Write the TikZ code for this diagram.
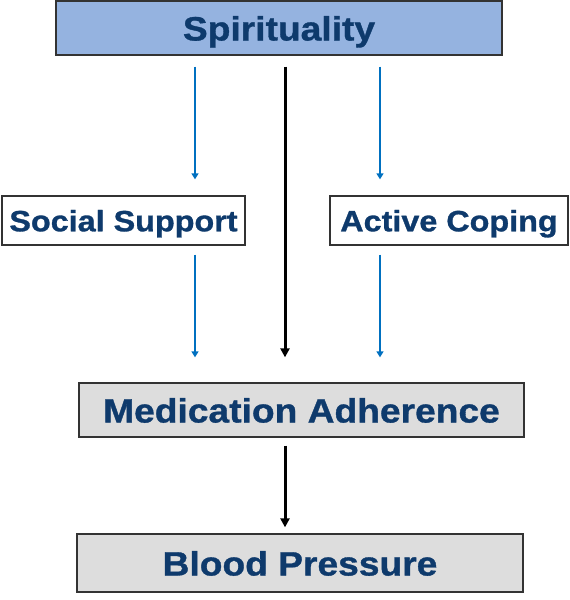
\documentclass[tikz,border=0pt]{standalone}
\usepackage{fontspec}
\usepackage{tikz}
\usetikzlibrary{arrows.meta,positioning}
\newfontfamily\boxfont[FakeStretch=1.1,FakeBold=1]{Liberation Sans}
\definecolor{navytext}{RGB}{14,58,108}
\definecolor{paleblue}{RGB}{149,179,224}
\definecolor{palegray}{RGB}{221,221,221}
\definecolor{linkblue}{RGB}{0,112,192}
\tikzset{
  bigbox/.style={
    draw=black!80,
    line width=1.3pt,
    fill=palegray,
    align=center,
    inner sep=0pt,
    text height=30pt,
    text depth=5pt,
    text=navytext,
    font=\boxfont\bfseries\fontsize{33.8}{36}\selectfont
  },
  smallbox/.style={
    draw=black!80,
    line width=1.3pt,
    fill=white,
    align=center,
    inner sep=0pt,
    minimum height=49pt,
    text height=26pt,
    text depth=4.4pt,
    text=navytext,
    font=\boxfont\bfseries\fontsize{29.4}{32}\selectfont
  },
  thinarrow/.style={
    -{Triangle[length=6pt,width=7pt]},
    line width=1.4pt,
    linkblue
  },
  thickarrow/.style={
    -{Triangle[length=9pt,width=9pt]},
    line width=3pt,
    black
  }
}

\begin{document}
\begin{tikzpicture}[x=1pt,y=1pt]
\useasboundingbox (0,0) rectangle (570,-600);
\node[bigbox,fill=paleblue,minimum width=446pt,minimum height=54pt] (spirit) at (279,-28) {Spirituality};
\node[smallbox,minimum width=243pt] (social) at (123.5,-220.5) {Social Support};
\node[smallbox,minimum width=238pt] (coping) at (449,-220.5) {Active Coping};
\node[bigbox,minimum width=445pt,minimum height=54pt] (adherence) at (301.5,-410) {Medication Adherence};
\node[bigbox,minimum width=446pt,minimum height=58pt] (pressure) at (300,-563) {Blood Pressure};
% spirituality to the mediators
\draw[thinarrow,shorten <=11pt,shorten >=16pt] ([xshift=-84pt]spirit.south) -- ([xshift=-84pt]spirit.south |- social.north);
\draw[thinarrow,shorten <=11pt,shorten >=16pt] ([xshift=101pt]spirit.south) -- ([xshift=101pt]spirit.south |- coping.north);
% mediators to adherence
\draw[thinarrow,shorten <=9pt,shorten >=25pt] ([xshift=-84pt]spirit.south |- social.south) -- ([xshift=-84pt]spirit.south |- adherence.north);
\draw[thinarrow,shorten <=9pt,shorten >=25pt] ([xshift=101pt]spirit.south |- coping.south) -- ([xshift=101pt]spirit.south |- adherence.north);
% direct paths
\draw[thickarrow,shorten <=11pt,shorten >=25pt] ([xshift=6pt]spirit.south) -- ([xshift=6pt]spirit.south |- adherence.north);
\draw[thickarrow,shorten <=8pt,shorten >=6pt] ([xshift=-16.5pt]adherence.south) -- ([xshift=-16.5pt]adherence.south |- pressure.north);
\end{tikzpicture}
\end{document}
